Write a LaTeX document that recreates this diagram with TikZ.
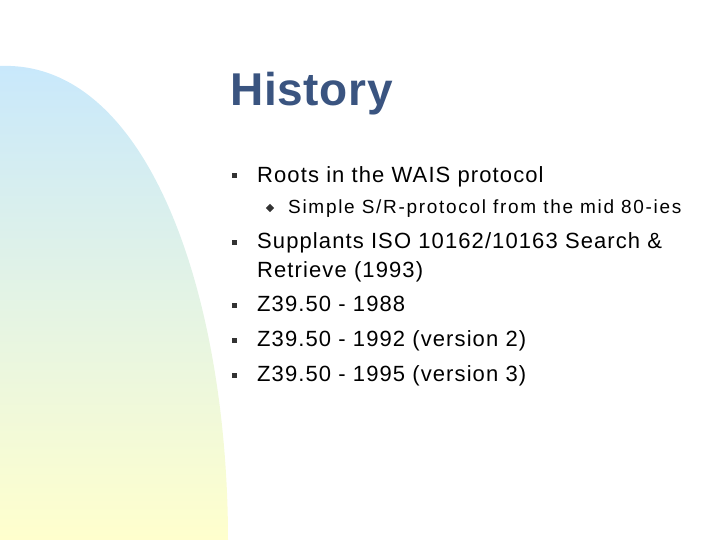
\documentclass[tikz,border=0pt]{standalone}
\usepackage{fontspec}
\setmainfont{Liberation Sans}
\begin{document}
\begin{tikzpicture}[x=1pt,y=-1pt,
  txt/.style={anchor=base west,inner sep=0pt,font=\fontsize{22}{26}\selectfont\addfontfeature{LetterSpace=5}},
  sub/.style={anchor=base west,inner sep=0pt,font=\fontsize{19}{23}\selectfont\addfontfeature{LetterSpace=9}},
  bul/.style={fill=black!80,minimum size=5pt,inner sep=0pt},
  sbul/.style={fill=black!80,minimum size=6pt,inner sep=0pt,rotate=45}]
\useasboundingbox (0,0) rectangle (720,540);
\shade[top color={rgb,255:red,200;green,232;blue,252},bottom color={rgb,255:red,255;green,255;blue,205}]
  (0,66) .. controls (150,60) and (228,300) .. (228,540) -- (0,540) -- cycle;
\node[anchor=base west,inner sep=0pt,font=\bfseries\fontsize{46}{52}\selectfont\addfontfeature{LetterSpace=1.5},text={rgb,255:red,58;green,84;blue,128}] (t) at (230,106) {History};
\node[bul] (b1) at (234,176) {};
\node[txt] (l1) at (257,183) {Roots in the WAIS protocol};
\node[sbul] (sb) at (270,208) {};
\node[sub] (l2) at (288,214) {Simple S/R-protocol from the mid 80-ies};
\node[bul] (b2) at (234,242) {};
\node[txt] (l3) at (257,248) {Supplants ISO 10162/10163 Search \&};
\node[txt] (l4) at (257,277) {Retrieve (1993)};
\node[bul] (b3) at (234,305) {};
\node[txt] (l5) at (257,311) {Z39.50 - 1988};
\node[bul] (b4) at (234,340) {};
\node[txt] (l6) at (257,346) {Z39.50 - 1992 (version 2)};
\node[bul] (b5) at (234,375) {};
\node[txt] (l7) at (257,381) {Z39.50 - 1995 (version 3)};
\end{tikzpicture}
\end{document}
